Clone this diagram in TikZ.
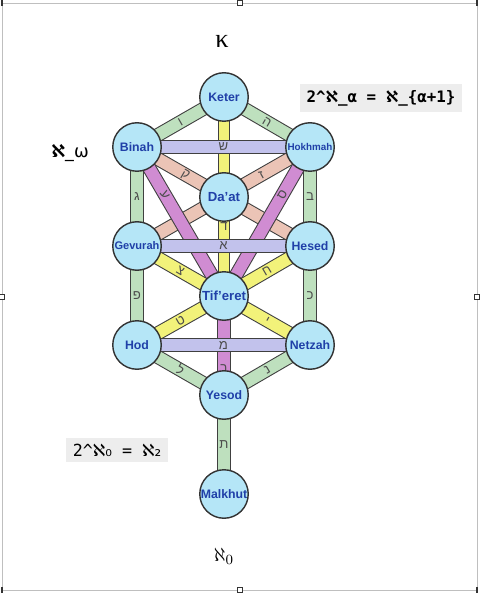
\documentclass[tikz,border=0pt]{standalone}
\usepackage{fontspec}
\setmainfont{Liberation Sans}
\newfontfamily\hebfont[Script=Hebrew]{Liberation Sans}
\newfontfamily\alephfont{DejaVu Sans}
\newfontfamily\formfont{DejaVu Sans Mono}
\newfontfamily\kappafont{Liberation Serif}
\usetikzlibrary{backgrounds}
\definecolor{sefirafill}{HTML}{B5E6F7}
\definecolor{sefiratext}{HTML}{2040A8}
\definecolor{grn}{HTML}{BEE0BE}
\definecolor{lav}{HTML}{C2C2EC}
\definecolor{salmon}{HTML}{EBC4B6}
\definecolor{mag}{HTML}{D08CD2}
\definecolor{yel}{HTML}{F2F27A}
\tikzset{
  sefira/.style={circle, draw=black!80, line width=0.8pt, fill=sefirafill,
    minimum size=0.97cm, inner sep=0pt, text=sefiratext,
    font=\bfseries\fontsize{7}{8}\selectfont},
  bar/.style={line width=0.6pt, draw=black!75, double distance=6.8pt},
  greenbar/.style={bar, double=grn},
  lavbar/.style={bar, double=lav},
  salmonbar/.style={bar, double=salmon},
  magbar/.style={bar, double=mag},
  yelbar/.style={bar, double=yel},
  letter/.style={font=\hebfont\fontsize{7.5}{8}\selectfont, text=black!70, inner sep=0pt},
  formula/.style={fill=black!7, inner xsep=4pt, minimum height=0.46cm}
}
\begin{document}
\begin{tikzpicture}[x=0.02cm, y=-0.02cm]
\useasboundingbox (0,0) rectangle (480,594);
% frame with handles
\draw[black!25] (2,3) rectangle (477,590);
\foreach \hx/\hy in {240/3, 240/590, 2/297, 477/297}
  \draw[black!80, fill=white] (\hx-2.5,\hy-2.5) rectangle (\hx+2.5,\hy+2.5);
\foreach \hx/\hy in {2/3, 477/3, 2/590, 477/590}
  \fill[black!80] (\hx-1,\hy-3) rectangle (\hx+1,\hy+3);

% sefirot
\node[sefira] (keter) at (224,97) {Keter};
\node[sefira] (binah) at (137,147) {Binah};
\node[sefira, font=\bfseries\fontsize{5.6}{6}\selectfont] (hokhmah) at (310,147) {Hokhmah};
\node[sefira, font=\bfseries\fontsize{7.5}{8}\selectfont] (daat) at (224,197) {Da'at};
\node[sefira, font=\bfseries\fontsize{6.3}{7}\selectfont] (gevurah) at (137,246) {Gevurah};
\node[sefira] (hesed) at (310,246) {Hesed};
\node[sefira, font=\bfseries\fontsize{7.5}{8}\selectfont] (tiferet) at (224,296) {Tif'eret};
\node[sefira] (hod) at (137,345) {Hod};
\node[sefira] (netzah) at (310,345) {Netzah};
\node[sefira] (yesod) at (224,395) {Yesod};
\node[sefira] (malkhut) at (224,494) {Malkhut};

% paths
\begin{scope}[on background layer]
\draw[salmonbar] (binah.center) -- node[letter, sloped, pos=.28] {ק} (hesed.center);
\draw[salmonbar] (hokhmah.center) -- node[letter, sloped, pos=.28] {ז} (gevurah.center);
\draw[magbar] (binah.center) -- node[letter, sloped, pos=.32] {ע} (tiferet.center);
\draw[magbar] (hokhmah.center) -- node[letter, sloped, pos=.32] {ס} (tiferet.center);
\draw[magbar] (tiferet.center) -- node[letter, pos=.73] {ר} (yesod.center);
\draw[yelbar, double distance=5.4pt] (keter.center) -- node[letter, pos=.65] {ד} (tiferet.center);
\draw[greenbar] (binah.center) -- node[letter, sloped] {ו} (keter.center);
\draw[greenbar] (keter.center) -- node[letter, sloped] {ה} (hokhmah.center);
\draw[greenbar] (binah.center) -- node[letter] {ג} (gevurah.center);
\draw[greenbar] (hokhmah.center) -- node[letter] {ב} (hesed.center);
\draw[greenbar] (gevurah.center) -- node[letter] {פ} (hod.center);
\draw[greenbar] (hesed.center) -- node[letter] {כ} (netzah.center);
\draw[greenbar] (hod.center) -- node[letter, sloped] {ל} (yesod.center);
\draw[greenbar] (yesod.center) -- node[letter, sloped] {נ} (netzah.center);
\draw[greenbar] (yesod.center) -- node[letter] {ת} (malkhut.center);
\draw[yelbar] (gevurah.center) -- node[letter, sloped] {צ} (tiferet.center);
\draw[yelbar] (tiferet.center) -- node[letter, sloped] {ח} (hesed.center);
\draw[yelbar] (hod.center) -- node[letter, sloped] {ט} (tiferet.center);
\draw[yelbar] (tiferet.center) -- node[letter, sloped] {י} (netzah.center);
\draw[lavbar] (binah.center) -- node[letter] {ש} (hokhmah.center);
\draw[lavbar] (gevurah.center) -- node[letter] {א} (hesed.center);
\draw[lavbar] (hod.center) -- node[letter] {מ} (netzah.center);
\end{scope}

% labels
\node (kappa) at (222,41) {\fontsize{15}{18}\selectfont\kappafont κ};
\node (alephomega) at (70,153) {\fontsize{10}{12}\selectfont{\alephfont\bfseries ℵ}{\alephfont\_ω}};
\node (alephzero) at (224,556) {\fontsize{11}{13}\selectfont$\aleph_0$};
\node[formula] (succ) at (381,98) {\fontsize{9}{10}\selectfont\formfont\bfseries
  2\textasciicircum{\alephfont\bfseries ℵ}\_α = {\alephfont\bfseries ℵ}\_\{α+1\}};
\node[formula] (cont) at (117,450) {\fontsize{9.5}{10}\selectfont\formfont
  2\textasciicircum{\alephfont ℵ₀} = {\alephfont ℵ₂}};
\end{tikzpicture}
\end{document}
